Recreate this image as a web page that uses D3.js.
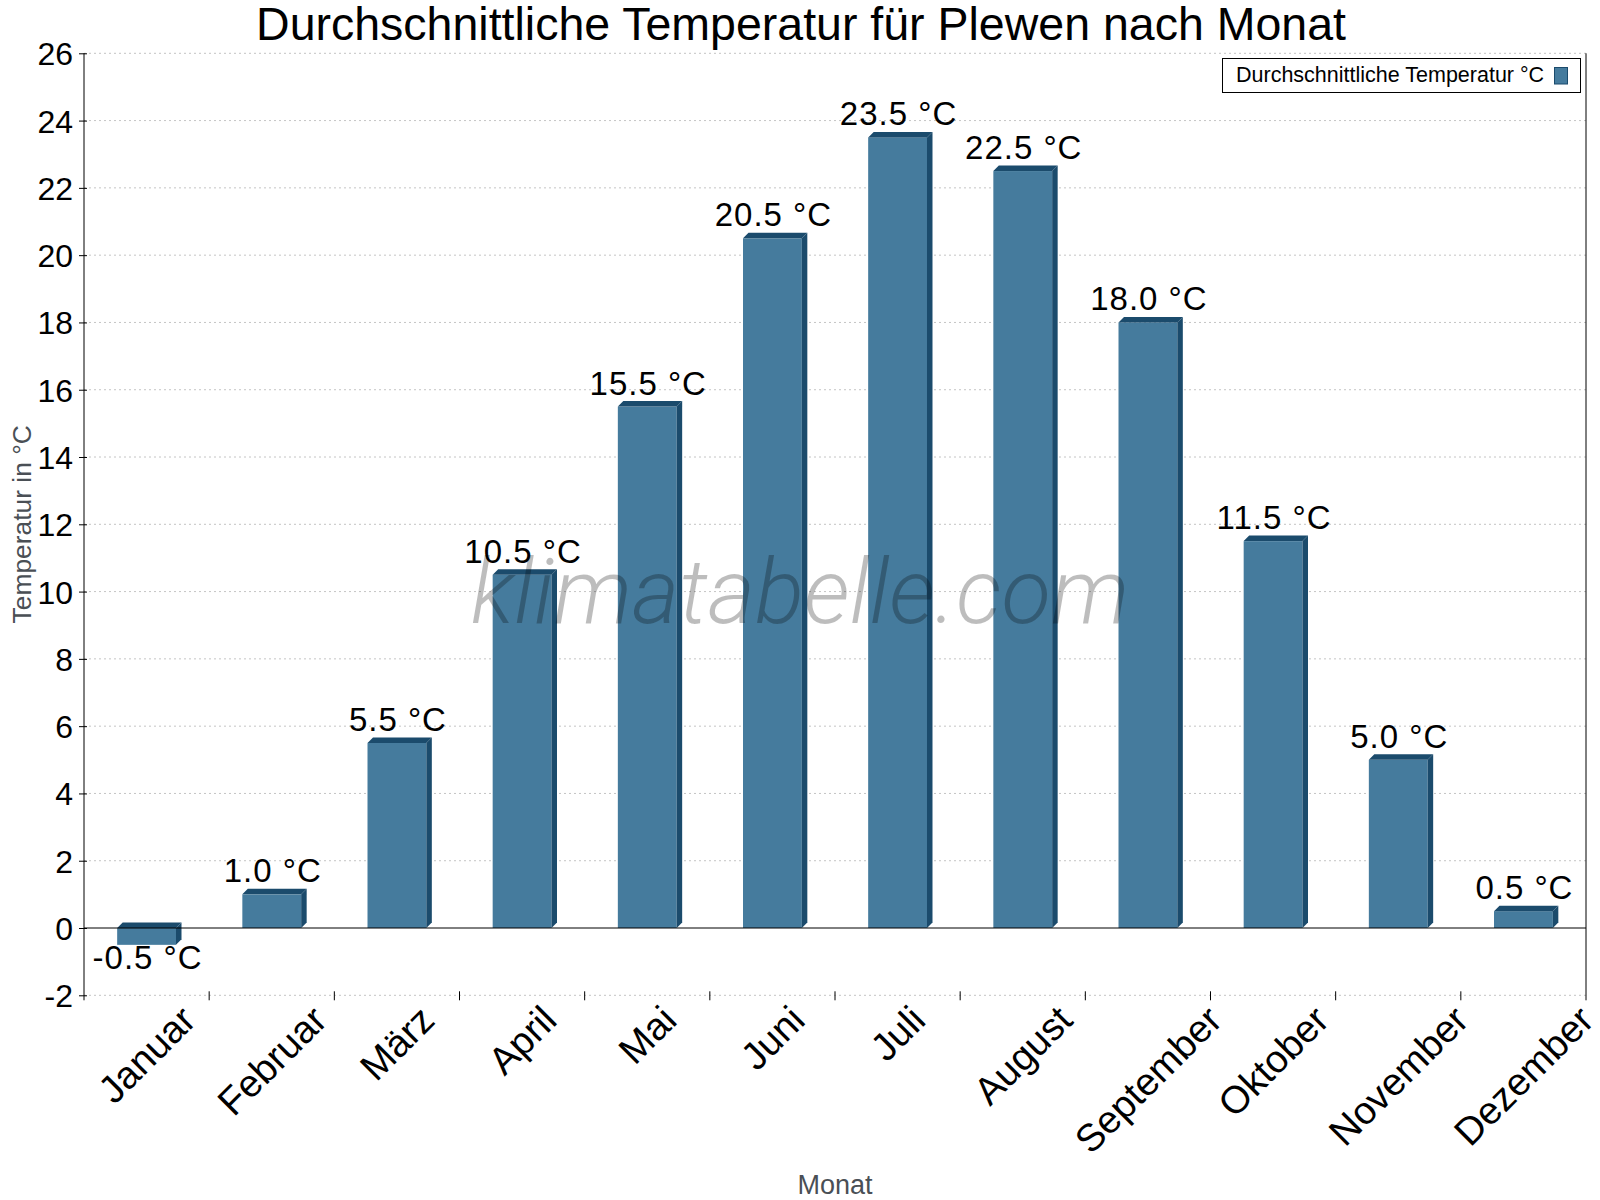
<!DOCTYPE html>
<html><head><meta charset="utf-8">
<script src="https://cdn.jsdelivr.net/npm/d3@7"></script>
<style>body{margin:0;background:#fff}</style>
</head><body>
<svg id="c" width="1600" height="1200"></svg>
<script>
const months = ["Januar","Februar","März","April","Mai","Juni","Juli","August","September","Oktober","November","Dezember"];
const temps = [-0.5, 1.0, 5.5, 10.5, 15.5, 20.5, 23.5, 22.5, 18.0, 11.5, 5.0, 0.5];
const yTickValues = [-2,0,2,4,6,8,10,12,14,16,18,20,22,24,26];
const titleText = "Durchschnittliche Temperatur für Plewen nach Monat";
const seriesName = "Durchschnittliche Temperatur °C";
const yAxisTitle = "Temperatur in °C";
const xAxisTitle = "Monat";
const watermark = "klimatabelle.com";
const unit = " °C";

const FONT = "'Liberation Sans', Arial, sans-serif";
const frontColor = "#457b9d", darkColor = "#1b4b6c";
const svg = d3.select("#c").attr("font-family", FONT);
const pLeft = 84, pRight = 1586, pTop = 53.3, pBottom = 995.3;

const x = d3.scaleBand().domain(months).range([pLeft, pRight]).padding(0);
const y = d3.scaleLinear().domain([d3.min(yTickValues), d3.max(yTickValues)]).range([pBottom, pTop]);
const bw = x.bandwidth(), barW = bw * 0.47, dep = 5.5;

svg.append("rect").attr("width",1600).attr("height",1200).attr("fill","#fff");

// grid
svg.append("g").selectAll("line").data(yTickValues.filter(v => v !== 0)).join("line")
  .attr("x1", pLeft).attr("x2", pRight).attr("y1", d => y(d)).attr("y2", d => y(d))
  .attr("stroke", "#c4c4c4").attr("stroke-width", 1).attr("stroke-dasharray", "2,3");

// y axis
const yAxis = d3.axisLeft(y).tickValues(yTickValues).tickSize(5).tickPadding(6).tickFormat(d => String(d));
const gy = svg.append("g").attr("transform", `translate(${pLeft},0)`).call(yAxis);
gy.select(".domain").remove();
gy.selectAll(".tick line").attr("stroke", "#000").attr("x2", 3).attr("x1", -5);
gy.selectAll(".tick text").attr("font-size", 32).attr("font-family", FONT).attr("fill", "#000").attr("x", -11).attr("dy", "0.36em");
svg.append("line").attr("x1", pLeft).attr("x2", pLeft).attr("y1", pTop).attr("y2", pBottom + 5).attr("stroke", "#000");
svg.append("line").attr("x1", pRight).attr("x2", pRight).attr("y1", pTop).attr("y2", pBottom + 5).attr("stroke", "#000");

// x ticks at band boundaries
const bounds = months.slice(1).map(m => x(m));
svg.append("g").selectAll("line").data(bounds).join("line")
  .attr("x1", d => d).attr("x2", d => d).attr("y1", pBottom - 4).attr("y2", pBottom + 5).attr("stroke", "#000");

// bars
const rows = months.map((m, i) => ({m, v: temps[i]}));
const bars = svg.append("g").selectAll("g").data(rows).join("g");
bars.each(function(d) {
  const g = d3.select(this);
  const x0 = x(d.m) + (bw - barW) / 2, x1 = x0 + barW;
  const yT = y(Math.max(d.v, 0)), yB = y(Math.min(d.v, 0));
  g.append("rect").attr("x", x0).attr("y", yT).attr("width", barW).attr("height", yB - yT).attr("fill", frontColor);
  g.append("polygon").attr("points", [[x0, yT], [x0 + dep, yT - dep], [x1 + dep, yT - dep], [x1, yT]].join(" ")).attr("fill", darkColor);
  g.append("polygon").attr("points", [[x1, yT], [x1 + dep, yT - dep], [x1 + dep, yB - dep], [x1, yB]].join(" ")).attr("fill", darkColor);
});

// zero line
svg.append("line").attr("x1", pLeft).attr("x2", pRight).attr("y1", y(0)).attr("y2", y(0)).attr("stroke", "#000");

// watermark
svg.append("text").attr("x", 800).attr("y", 623).attr("text-anchor", "middle")
  .attr("font-family", "Roboto, 'Open Sans', sans-serif").attr("font-weight", 300).attr("font-style", "italic")
  .attr("font-size", 91).attr("fill", "#000").attr("fill-opacity", 0.26).text(watermark);

// value labels
svg.append("g").selectAll("text").data(rows).join("text")
  .attr("x", d => x(d.m) + bw / 2 + 1)
  .attr("y", d => d.v >= 0 ? y(d.v) - 12 : y(d.v) + 24)
  .attr("text-anchor", "middle").attr("font-size", 33).attr("letter-spacing", 1).attr("fill", "#000")
  .text(d => d.v.toFixed(1) + unit);

// x labels rotated
const xfs = 38.5;
svg.append("g").selectAll("text").data(months).join("text")
  .attr("font-size", xfs).attr("text-anchor", "middle").attr("dominant-baseline", "central").attr("fill", "#000")
  .text(d => d)
  .each(function(d) {
    const L = this.getComputedTextLength();
    const cy = 1003 + 0.3536 * (L + 0.72 * xfs);
    d3.select(this).attr("transform", `translate(${x(d) + bw / 2},${cy}) rotate(-45)`);
  });

// title
svg.append("text").attr("x", 801).attr("y", 40).attr("text-anchor", "middle").attr("font-size", 46.5).attr("fill", "#000").text(titleText);

// axis titles
svg.append("text").attr("transform", `translate(31,${(pTop + pBottom) / 2}) rotate(-90)`).attr("text-anchor", "middle")
  .attr("font-size", 26.4).attr("fill", "#4a4f55").text(yAxisTitle);
svg.append("text").attr("x", (pLeft + pRight) / 2).attr("y", 1194).attr("text-anchor", "middle")
  .attr("font-size", 27).attr("fill", "#4a4f55").text(xAxisTitle);

// legend
const lg = svg.append("g");
lg.append("rect").attr("x", 1222.5).attr("y", 58.5).attr("width", 358).attr("height", 34).attr("fill", "#fff").attr("stroke", "#000");
lg.append("text").attr("x", 1236).attr("y", 82.3).attr("font-size", 21.5).attr("fill", "#000").text(seriesName);
lg.append("rect").attr("x", 1554.5).attr("y", 67.5).attr("width", 13).attr("height", 16.5).attr("fill", frontColor).attr("stroke", darkColor);
</script>
</body></html>
